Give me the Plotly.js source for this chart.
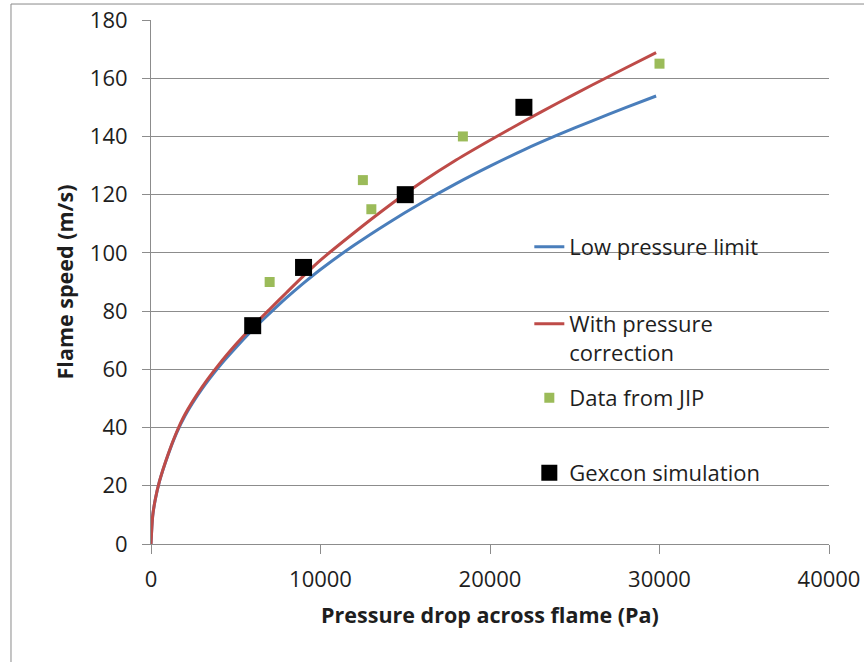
<!DOCTYPE html>
<html>
<head>
<meta charset="utf-8">
<script src="https://cdn.plot.ly/plotly-3.0.1.min.js"></script>
<style>
  html, body { margin: 0; padding: 0; background: #ffffff; }
  #chart { width: 864px; height: 662px; }
</style>
</head>
<body>
<div id="chart"></div>
<script>
// Pressure drop across the flame (Pa) at which the model curves are sampled
const pressureDrop = [0, 100, 250, 500, 1000, 1500, 2000, 3000, 4000, 5000, 6000, 7000, 8000, 9000,
  10000, 12000, 14000, 16000, 18000, 20000, 22000, 24000, 26000, 28000, 29800];

// Flame speed (m/s), model without pressure effect
const lowPressureLimit = [0, 9.6, 15.2, 21.5, 30.5, 38, 44, 53.2, 60.8, 67.4, 73.6, 79.2, 84.6, 89.6,
  94.3, 102.7, 110.3, 117.3, 123.8, 129.8, 135.4, 140.5, 145.3, 149.9, 153.9];

// Flame speed (m/s), model including pressure correction
const withPressureCorrection = [0, 9.7, 15.3, 21.6, 30.7, 38.3, 44.5, 53.8, 61.6, 68.5, 74.8, 80.6, 86.4, 92.1,
  97.5, 107, 116, 124.4, 131.9, 138.7, 145.2, 151.5, 157.6, 163.5, 168.8];

// Measured points from the joint industry project
const jipPressure = [7000, 12500, 13000, 18400, 30000];
const jipSpeed = [90, 125, 115, 140, 165];

// Simulation results
const gexconPressure = [6000, 9000, 15000, 22000];
const gexconSpeed = [75, 95, 120, 150];

const seriesNames = ['Low pressure limit', 'With pressure<br>correction', 'Data from JIP', 'Gexcon simulation'];

const FONT = '"Open Sans", "Noto Sans", sans-serif';
const TEXT = '#1e1e1e';
const GRID = '#8c8c8c';

const traces = [
  {
    x: pressureDrop, y: lowPressureLimit, name: seriesNames[0], type: 'scatter', mode: 'lines',
    line: { color: '#4a7ebb', width: 3, shape: 'spline', smoothing: 0.8 }, legend: 'legend'
  },
  {
    x: pressureDrop, y: withPressureCorrection, name: seriesNames[1], type: 'scatter', mode: 'lines',
    line: { color: '#be4b48', width: 3, shape: 'spline', smoothing: 0.8 }, legend: 'legend2'
  },
  {
    x: jipPressure, y: jipSpeed, name: seriesNames[2], type: 'scatter', mode: 'markers',
    marker: { symbol: 'square', color: '#9bbb59', size: 10, line: { width: 0 } }, legend: 'legend3'
  },
  {
    x: gexconPressure, y: gexconSpeed, name: seriesNames[3], type: 'scatter', mode: 'markers',
    marker: { symbol: 'square', color: '#000000', size: 17, line: { width: 0 } }, legend: 'legend4'
  }
];

// Plot area spans 151..829 px horizontally and 20..544 px vertically
const legendX = 0.558;
function legendBox(yPaper) {
  return {
    x: legendX, xanchor: 'left', y: yPaper, yanchor: 'middle',
    bgcolor: 'rgba(0,0,0,0)', borderwidth: 0, valign: 'top',
    font: { family: FONT, size: 22, color: TEXT }
  };
}

const layout = {
  width: 864, height: 662,
  margin: { l: 151, r: 35, t: 20, b: 118 },
  paper_bgcolor: '#ffffff', plot_bgcolor: '#ffffff',
  font: { family: FONT, color: TEXT },
  showlegend: true,
  legend: legendBox(0.5668),
  legend2: legendBox(0.3922),
  legend3: legendBox(0.2786),
  legend4: legendBox(0.1355),
  xaxis: {
    range: [0, 40000], dtick: 10000, tick0: 0, tickformat: 'd',
    showgrid: false, zeroline: false,
    showline: true, linecolor: GRID, linewidth: 1,
    ticks: 'outside', ticklen: 9, tickcolor: GRID, tickwidth: 1,
    ticklabelstandoff: 7,
    tickfont: { family: FONT, size: 22, color: TEXT },
    title: { text: 'Pressure drop across flame (Pa)', font: { family: FONT, size: 21.5, color: TEXT, weight: 'bold' }, standoff: 15 },
    automargin: false
  },
  yaxis: {
    range: [0, 180], dtick: 20, tick0: 0,
    showgrid: true, gridcolor: GRID, gridwidth: 1, zeroline: false,
    showline: true, linecolor: GRID, linewidth: 1,
    ticks: 'outside', ticklen: 8, tickcolor: GRID, tickwidth: 1,
    ticklabelstandoff: 10,
    tickfont: { family: FONT, size: 22, color: TEXT },
    title: { text: 'Flame speed (m/s)', font: { family: FONT, size: 21.5, color: TEXT, weight: 'bold' }, standoff: 10 },
    automargin: false
  },
  shapes: [
    // white panel behind the legend entries
    {
      type: 'rect', xref: 'paper', yref: 'paper', layer: 'between',
      x0: 0.5442, x1: 0.9218, y0: 0.0916, y1: 0.6069,
      fillcolor: '#ffffff', line: { width: 0 }
    },
    // chart frame
    {
      type: 'rect', xref: 'paper', yref: 'paper', layer: 'above',
      x0: -0.2065, x1: 1.3, y0: -0.3, y1: 1.0305,
      fillcolor: 'rgba(0,0,0,0)', line: { color: '#8a8a8a', width: 1 }
    }
  ]
};

Plotly.newPlot('chart', traces, layout, { displayModeBar: false, staticPlot: true });
</script>
</body>
</html>
